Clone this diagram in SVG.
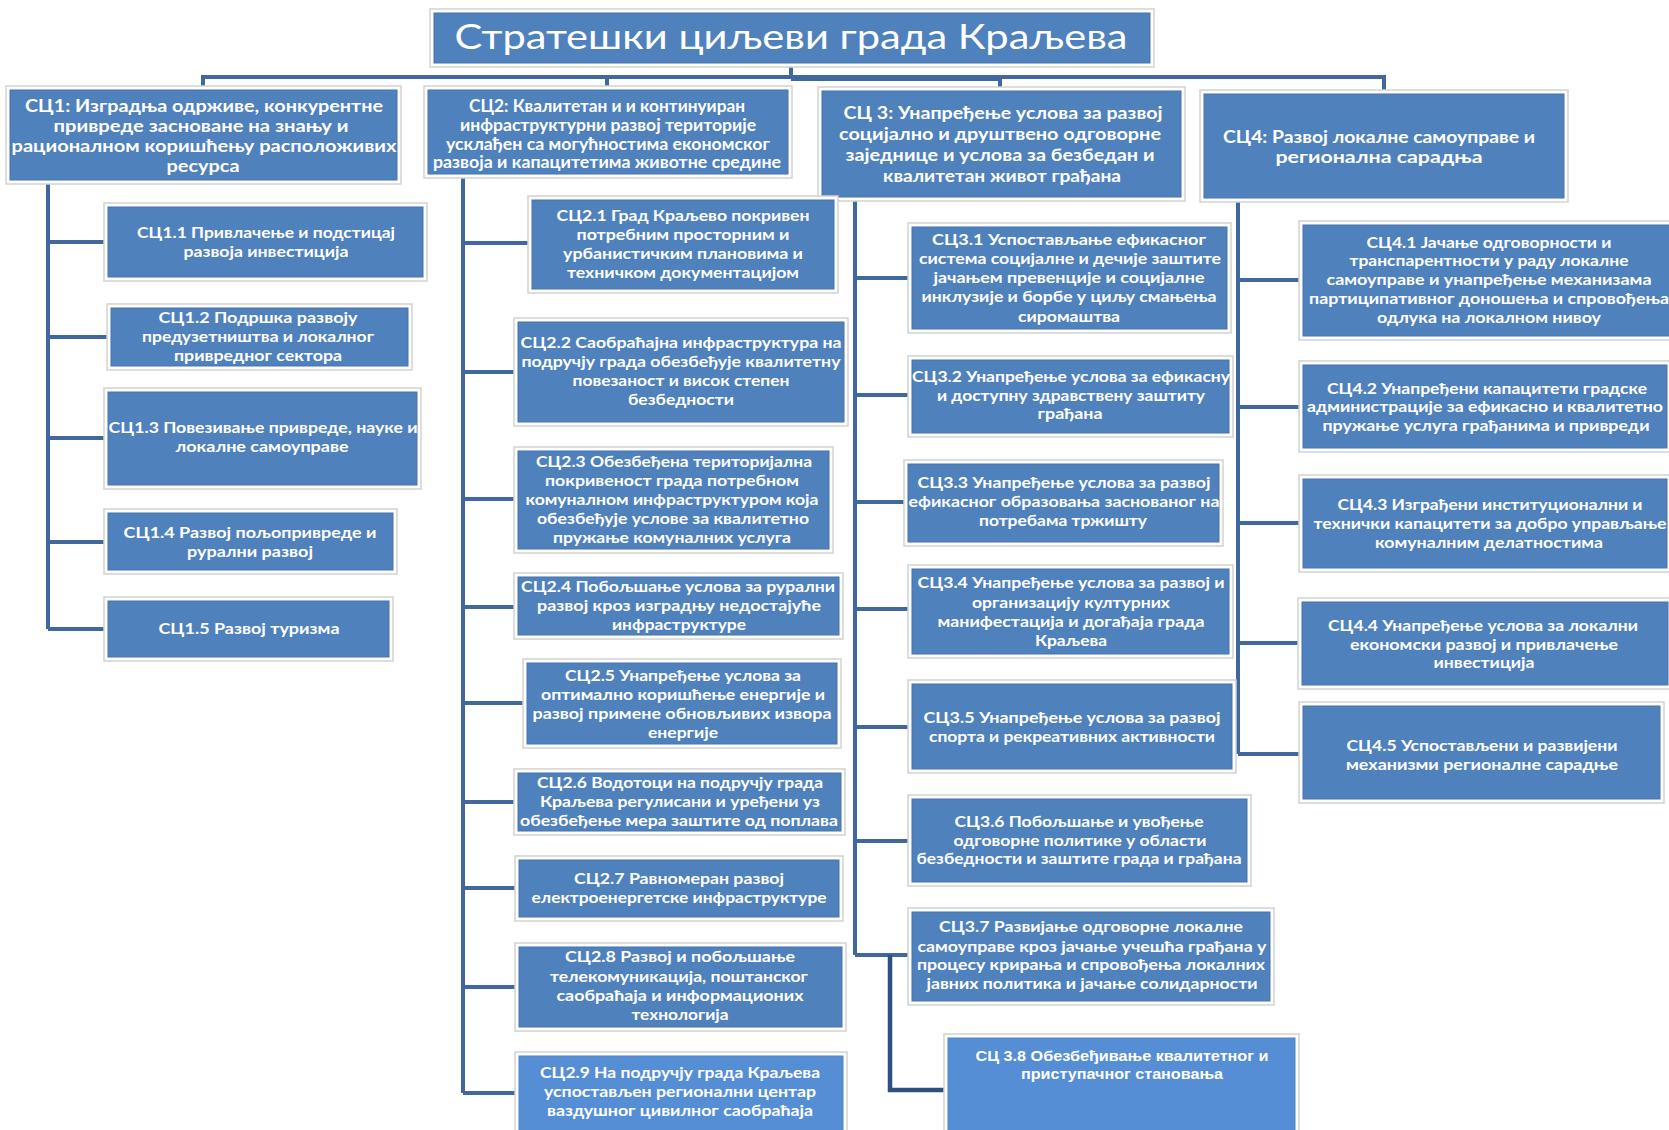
<svg xmlns="http://www.w3.org/2000/svg" width="1669" height="1130" viewBox="0 0 1669 1130">
<style>
.fr{fill:#ffffff;stroke:#d2d2d2;stroke-width:1.5}
.bx{fill:#4F81BD;stroke:#4675AE;stroke-width:1}
.bl{fill:#558ED5;stroke:#4F85C8;stroke-width:1}
.tt{font-family:Lato,"Open Sans","Noto Sans",sans-serif;font-size:35px;fill:#ffffff;text-anchor:middle}
.h{font-family:Lato,"Open Sans","Noto Sans",sans-serif;font-size:16.5px;font-weight:bold;fill:#ffffff;text-anchor:middle}
.t{font-family:Lato,"Open Sans","Noto Sans",sans-serif;font-size:16px;font-weight:bold;fill:#ffffff;text-anchor:middle}
.a{font-family:"Liberation Sans",Arial,sans-serif;font-size:15px;font-weight:bold;fill:#ffffff;text-anchor:middle}
.c{fill:none;stroke:#41689E;stroke-width:4;stroke-linejoin:miter}
.cd{fill:none;stroke:#2E4F80;stroke-width:4.5;stroke-linejoin:miter}
</style>
<rect width="1669" height="1130" fill="#ffffff"/>
<g id="connectors">
<path class="c" d="M791,63V77M203,90V77H1384V94M607,77V90M1000,77V91"/>
<path class="c" d="M791,79H1000"/>
<path class="c" d="M48,182V629M48,242H107M48,337H111M48,438H108M48,542H108M48,629H108"/>
<path class="c" d="M463,174V1093M463,243H532M463,372H518M463,499H518M463,607H518M463,703H527M463,802H518M463,888H519M463,987H519M463,1093H519"/>
<path class="c" d="M855,197V955M855,278H912M855,395H912M855,502H908M855,609H912M855,727H912M855,841H912M855,955H912"/>
<path class="cd" d="M890,955V1090H948"/>
<path class="c" d="M1238,198V754M1238,280H1302M1238,407H1302M1238,523H1302M1238,643H1302M1238,754H1302"/>
</g>
<g id="title">
<rect class="fr" x="430" y="9" width="724" height="58"/>
<rect class="bx" x="434" y="13" width="716" height="50"/>
<text class="tt" x="791" y="49" textLength="673" lengthAdjust="spacingAndGlyphs">Стратешки циљеви града Краљева</text>
</g>
<g id="sc1">
<rect class="fr" x="6" y="86" width="395" height="98"/>
<rect class="bx" x="10" y="90" width="387" height="90"/>
<text class="h" x="204" y="112" textLength="358" lengthAdjust="spacingAndGlyphs">СЦ1:  Изградња одрживе, конкурентне</text>
<text class="h" x="201" y="132" textLength="295" lengthAdjust="spacingAndGlyphs">привреде засноване на знању  и</text>
<text class="h" x="204" y="152" textLength="385" lengthAdjust="spacingAndGlyphs">рационалном коришћењу расположивих</text>
<text class="h" x="203" y="172" textLength="73" lengthAdjust="spacingAndGlyphs">ресурса</text>
</g>
<g id="sc2">
<rect class="fr" x="424" y="86" width="368" height="92"/>
<rect class="bx" x="428" y="90" width="360" height="84"/>
<text class="h" x="607" y="112" textLength="276" lengthAdjust="spacingAndGlyphs">СЦ2: Квалитетан и и континуиран</text>
<text class="h" x="608" y="130.5" textLength="296" lengthAdjust="spacingAndGlyphs">инфраструктурни развој територије</text>
<text class="h" x="608" y="149.5" textLength="324" lengthAdjust="spacingAndGlyphs">усклађен са могућностима економског</text>
<text class="h" x="607" y="168" textLength="348" lengthAdjust="spacingAndGlyphs">развоја и капацитетима животне средине</text>
</g>
<g id="sc3">
<rect class="fr" x="818" y="87" width="367" height="114"/>
<rect class="bx" x="822" y="91" width="359" height="106"/>
<text class="h" x="1003" y="118.5" textLength="319" lengthAdjust="spacingAndGlyphs">СЦ 3: Унапређење услова за развој</text>
<text class="h" x="1000" y="139.5" textLength="322" lengthAdjust="spacingAndGlyphs">социјално и друштвено одговорне</text>
<text class="h" x="1000" y="160.5" textLength="309" lengthAdjust="spacingAndGlyphs">заједнице и услова за безбедан и</text>
<text class="h" x="1002" y="181.5" textLength="238" lengthAdjust="spacingAndGlyphs">квалитетан живот грађана</text>
</g>
<g id="sc4">
<rect class="fr" x="1200" y="90" width="368" height="112"/>
<rect class="bx" x="1204" y="94" width="360" height="104"/>
<text class="h" x="1379" y="143" textLength="312" lengthAdjust="spacingAndGlyphs">СЦ4:  Развој локалне самоуправе и</text>
<text class="h" x="1379" y="162.5" textLength="207" lengthAdjust="spacingAndGlyphs">регионална сарадња</text>
</g>
<g id="sc1-1">
<rect class="fr" x="104" y="203" width="323" height="78"/>
<rect class="bx" x="108" y="207" width="315" height="70"/>
<text class="t" x="266" y="238" textLength="258" lengthAdjust="spacingAndGlyphs">СЦ1.1 Привлачење и подстицај</text>
<text class="t" x="266" y="257" textLength="165" lengthAdjust="spacingAndGlyphs">развоја инвестиција</text>
</g>
<g id="sc1-2">
<rect class="fr" x="107" y="304" width="305" height="66"/>
<rect class="bx" x="111" y="308" width="297" height="58"/>
<text class="t" x="258" y="323" textLength="199" lengthAdjust="spacingAndGlyphs">СЦ1.2  Подршка развоју</text>
<text class="t" x="258" y="342" textLength="232" lengthAdjust="spacingAndGlyphs">предузетништва и локалног</text>
<text class="t" x="258" y="361" textLength="168" lengthAdjust="spacingAndGlyphs">привредног сектора</text>
</g>
<g id="sc1-3">
<rect class="fr" x="104" y="388" width="317" height="101"/>
<rect class="bx" x="108" y="392" width="309" height="93"/>
<text class="t" x="263" y="433" textLength="309" lengthAdjust="spacingAndGlyphs">СЦ1.3 Повезивање привреде, науке и</text>
<text class="t" x="262" y="452" textLength="173" lengthAdjust="spacingAndGlyphs">локалне самоуправе</text>
</g>
<g id="sc1-4">
<rect class="fr" x="104" y="509" width="293" height="65"/>
<rect class="bx" x="108" y="513" width="285" height="57"/>
<text class="t" x="250" y="538" textLength="253" lengthAdjust="spacingAndGlyphs">СЦ1.4 Развој  пољопривреде и</text>
<text class="t" x="250" y="557" textLength="126" lengthAdjust="spacingAndGlyphs">рурални развој</text>
</g>
<g id="sc1-5">
<rect class="fr" x="104" y="597" width="289" height="64"/>
<rect class="bx" x="108" y="601" width="281" height="56"/>
<text class="t" x="249" y="634" textLength="181" lengthAdjust="spacingAndGlyphs">СЦ1.5  Развој туризма</text>
</g>
<g id="sc2-1">
<rect class="fr" x="528" y="196" width="310" height="97"/>
<rect class="bx" x="532" y="200" width="302" height="89"/>
<text class="t" x="683" y="221" textLength="253" lengthAdjust="spacingAndGlyphs">СЦ2.1 Град Краљево покривен</text>
<text class="t" x="683" y="240" textLength="213" lengthAdjust="spacingAndGlyphs">потребним просторним и</text>
<text class="t" x="683" y="259" textLength="240" lengthAdjust="spacingAndGlyphs">урбанистичким плановима и</text>
<text class="t" x="683" y="278" textLength="232" lengthAdjust="spacingAndGlyphs">техничком документацијом</text>
</g>
<g id="sc2-2">
<rect class="fr" x="514" y="318" width="334" height="108"/>
<rect class="bx" x="518" y="322" width="326" height="100"/>
<text class="t" x="681" y="348" textLength="321" lengthAdjust="spacingAndGlyphs">СЦ2.2  Саобраћајна инфраструктура на</text>
<text class="t" x="681" y="367" textLength="319" lengthAdjust="spacingAndGlyphs">подручју града обезбеђује квалитетну</text>
<text class="t" x="681" y="386" textLength="217" lengthAdjust="spacingAndGlyphs">повезаност и висок степен</text>
<text class="t" x="681" y="405" textLength="106" lengthAdjust="spacingAndGlyphs">безбедности</text>
</g>
<g id="sc2-3">
<rect class="fr" x="514" y="447" width="319" height="106"/>
<rect class="bx" x="518" y="451" width="311" height="98"/>
<text class="t" x="674" y="467" textLength="276" lengthAdjust="spacingAndGlyphs">СЦ2.3 Обезбеђена територијална</text>
<text class="t" x="672" y="485.5" textLength="254" lengthAdjust="spacingAndGlyphs">покривеност града потребном</text>
<text class="t" x="672" y="504.5" textLength="293" lengthAdjust="spacingAndGlyphs">комуналном инфраструктуром која</text>
<text class="t" x="673" y="523.5" textLength="272" lengthAdjust="spacingAndGlyphs">обезбеђује услове за квалитетно</text>
<text class="t" x="672" y="542.5" textLength="238" lengthAdjust="spacingAndGlyphs">пружање комуналних услуга</text>
</g>
<g id="sc2-4">
<rect class="fr" x="514" y="573" width="329" height="66"/>
<rect class="bx" x="518" y="577" width="321" height="58"/>
<text class="t" x="678" y="592" textLength="314" lengthAdjust="spacingAndGlyphs">СЦ2.4 Побољшање услова за рурални</text>
<text class="t" x="679" y="611" textLength="284" lengthAdjust="spacingAndGlyphs">развој кроз изградњу недостајуће</text>
<text class="t" x="679" y="630" textLength="134" lengthAdjust="spacingAndGlyphs">инфраструктуре</text>
</g>
<g id="sc2-5">
<rect class="fr" x="523" y="659" width="318" height="89"/>
<rect class="bx" x="527" y="663" width="310" height="81"/>
<text class="t" x="683" y="681" textLength="236" lengthAdjust="spacingAndGlyphs">СЦ2.5 Унапређење услова за</text>
<text class="t" x="683" y="700" textLength="284" lengthAdjust="spacingAndGlyphs">оптимално коришћење енергије и</text>
<text class="t" x="682" y="719" textLength="299" lengthAdjust="spacingAndGlyphs">развој примене обновљивих извора</text>
<text class="t" x="683" y="738" textLength="70" lengthAdjust="spacingAndGlyphs">енергије</text>
</g>
<g id="sc2-6">
<rect class="fr" x="514" y="769" width="331" height="66"/>
<rect class="bx" x="518" y="773" width="323" height="58"/>
<text class="t" x="680" y="788" textLength="286" lengthAdjust="spacingAndGlyphs">СЦ2.6 Водотоци на подручју града</text>
<text class="t" x="680" y="807" textLength="280" lengthAdjust="spacingAndGlyphs">Краљева регулисани и уређени уз</text>
<text class="t" x="679" y="826" textLength="318" lengthAdjust="spacingAndGlyphs">обезбеђење мера заштите од поплава</text>
</g>
<g id="sc2-7">
<rect class="fr" x="515" y="856" width="328" height="65"/>
<rect class="bx" x="519" y="860" width="320" height="57"/>
<text class="t" x="679" y="884" textLength="210" lengthAdjust="spacingAndGlyphs">СЦ2.7 Равномеран развој</text>
<text class="t" x="679" y="903" textLength="295" lengthAdjust="spacingAndGlyphs">електроенергетске инфраструктуре</text>
</g>
<g id="sc2-8">
<rect class="fr" x="515" y="943" width="331" height="88"/>
<rect class="bx" x="519" y="947" width="323" height="80"/>
<text class="t" x="680" y="962" textLength="230" lengthAdjust="spacingAndGlyphs">СЦ2.8  Развој и побољшање</text>
<text class="t" x="679" y="982" textLength="258" lengthAdjust="spacingAndGlyphs">телекомуникација, поштанског</text>
<text class="t" x="680" y="1001" textLength="247" lengthAdjust="spacingAndGlyphs">саобраћаја и информационих</text>
<text class="t" x="680" y="1020" textLength="97" lengthAdjust="spacingAndGlyphs">технологија</text>
</g>
<g id="sc2-9">
<rect class="fr" x="515" y="1052" width="332" height="82"/>
<rect class="bl" x="519" y="1056" width="324" height="78"/>
<text class="t" x="680" y="1078" textLength="280" lengthAdjust="spacingAndGlyphs">СЦ2.9 На подручју града Краљева</text>
<text class="t" x="680" y="1097" textLength="272" lengthAdjust="spacingAndGlyphs">успостављен регионални центар</text>
<text class="t" x="680" y="1116" textLength="266" lengthAdjust="spacingAndGlyphs">ваздушног цивилног саобраћаја</text>
</g>
<g id="sc3-1">
<rect class="fr" x="908" y="223" width="323" height="110"/>
<rect class="bx" x="912" y="227" width="315" height="102"/>
<text class="t" x="1069" y="245" textLength="274" lengthAdjust="spacingAndGlyphs">СЦ3.1  Успостављање  ефикасног</text>
<text class="t" x="1070" y="264" textLength="302" lengthAdjust="spacingAndGlyphs">система  социјалне и дечије заштите</text>
<text class="t" x="1069" y="283" textLength="271" lengthAdjust="spacingAndGlyphs">јачањем превенције и социјалне</text>
<text class="t" x="1069" y="302" textLength="295" lengthAdjust="spacingAndGlyphs">инклузије и борбе у циљу смањења</text>
<text class="t" x="1069" y="322" textLength="102" lengthAdjust="spacingAndGlyphs">сиромаштва</text>
</g>
<g id="sc3-2">
<rect class="fr" x="908" y="356" width="325" height="81"/>
<rect class="bx" x="912" y="360" width="317" height="73"/>
<text class="t" x="1071" y="382" textLength="318" lengthAdjust="spacingAndGlyphs">СЦ3.2 Унапређење услова за ефикасну</text>
<text class="t" x="1071" y="401" textLength="268" lengthAdjust="spacingAndGlyphs">и доступну здравствену заштиту</text>
<text class="t" x="1070" y="419" textLength="65" lengthAdjust="spacingAndGlyphs">грађана</text>
</g>
<g id="sc3-3">
<rect class="fr" x="904" y="460" width="319" height="86"/>
<rect class="bx" x="908" y="464" width="311" height="78"/>
<text class="t" x="1064" y="488" textLength="293" lengthAdjust="spacingAndGlyphs">СЦ3.3 Унапређење услова за развој</text>
<text class="t" x="1064" y="507" textLength="311" lengthAdjust="spacingAndGlyphs">ефикасног образовања заснованог на</text>
<text class="t" x="1063" y="526" textLength="168" lengthAdjust="spacingAndGlyphs">потребама тржишту</text>
</g>
<g id="sc3-4">
<rect class="fr" x="908" y="565" width="325" height="93"/>
<rect class="bx" x="912" y="569" width="317" height="85"/>
<text class="t" x="1071" y="588" textLength="307" lengthAdjust="spacingAndGlyphs">СЦ3.4 Унапређење услова за развој и</text>
<text class="t" x="1071" y="608" textLength="198" lengthAdjust="spacingAndGlyphs">организацију културних</text>
<text class="t" x="1071" y="627" textLength="267" lengthAdjust="spacingAndGlyphs">манифестација и догађаја града</text>
<text class="t" x="1071" y="646" textLength="72" lengthAdjust="spacingAndGlyphs">Краљева</text>
</g>
<g id="sc3-5">
<rect class="fr" x="908" y="680" width="328" height="93"/>
<rect class="bx" x="912" y="684" width="320" height="85"/>
<text class="t" x="1072" y="723" textLength="297" lengthAdjust="spacingAndGlyphs">СЦ3.5  Унапређење услова за развој</text>
<text class="t" x="1072" y="742" textLength="286" lengthAdjust="spacingAndGlyphs">спорта и рекреативних активности</text>
</g>
<g id="sc3-6">
<rect class="fr" x="908" y="795" width="343" height="91"/>
<rect class="bx" x="912" y="799" width="335" height="83"/>
<text class="t" x="1079" y="827" textLength="249" lengthAdjust="spacingAndGlyphs">СЦ3.6 Побољшање и увођење</text>
<text class="t" x="1080" y="846" textLength="253" lengthAdjust="spacingAndGlyphs">одговорне политике у области</text>
<text class="t" x="1079" y="864" textLength="325" lengthAdjust="spacingAndGlyphs">безбедности и заштите града и грађана</text>
</g>
<g id="sc3-7">
<rect class="fr" x="908" y="908" width="366" height="97"/>
<rect class="bx" x="912" y="912" width="358" height="89"/>
<text class="t" x="1091" y="932" textLength="304" lengthAdjust="spacingAndGlyphs">СЦ3.7 Развијање одговорне локалне</text>
<text class="t" x="1092" y="952" textLength="349" lengthAdjust="spacingAndGlyphs">самоуправе кроз јачање учешћа грађана у</text>
<text class="t" x="1091" y="970" textLength="348" lengthAdjust="spacingAndGlyphs">процесу крирања и спровођења локалних</text>
<text class="t" x="1092" y="989" textLength="331" lengthAdjust="spacingAndGlyphs">јавних политика и јачање солидарности</text>
</g>
<g id="sc3-8">
<rect class="fr" x="944" y="1034" width="355" height="100"/>
<rect class="bl" x="948" y="1038" width="347" height="96"/>
<text class="a" x="1122" y="1061" textLength="293" lengthAdjust="spacingAndGlyphs">СЦ 3.8 Обезбеђивање квалитетног и</text>
<text class="a" x="1122" y="1079" textLength="202" lengthAdjust="spacingAndGlyphs">приступачног становања</text>
</g>
<g id="sc4-1">
<rect class="fr" x="1299" y="221" width="374" height="119"/>
<rect class="bx" x="1303" y="225" width="370" height="111"/>
<text class="t" x="1489" y="248" textLength="245" lengthAdjust="spacingAndGlyphs">СЦ4.1 Јачање одговорности и</text>
<text class="t" x="1489" y="266" textLength="279" lengthAdjust="spacingAndGlyphs">транспарентности у раду локалне</text>
<text class="t" x="1489" y="285" textLength="325" lengthAdjust="spacingAndGlyphs">самоуправе и унапређење механизама</text>
<text class="t" x="1489" y="304" textLength="360" lengthAdjust="spacingAndGlyphs">партиципативног доношења и спровођења</text>
<text class="t" x="1489" y="323" textLength="224" lengthAdjust="spacingAndGlyphs">одлука на локалном нивоу</text>
</g>
<g id="sc4-2">
<rect class="fr" x="1299" y="361" width="372" height="91"/>
<rect class="bx" x="1303" y="365" width="364" height="83"/>
<text class="t" x="1487" y="394" textLength="320" lengthAdjust="spacingAndGlyphs">СЦ4.2 Унапређени капацитети градске</text>
<text class="t" x="1485" y="412" textLength="356" lengthAdjust="spacingAndGlyphs">администрације за ефикасно  и квалитетно</text>
<text class="t" x="1486" y="431" textLength="327" lengthAdjust="spacingAndGlyphs">пружање услуга грађанима и привреди</text>
</g>
<g id="sc4-3">
<rect class="fr" x="1299" y="475" width="372" height="97"/>
<rect class="bx" x="1303" y="479" width="364" height="89"/>
<text class="t" x="1490" y="510" textLength="305" lengthAdjust="spacingAndGlyphs">СЦ4.3 Изграђени институционални и</text>
<text class="t" x="1490" y="529" textLength="353" lengthAdjust="spacingAndGlyphs">технички капацитети за добро управљање</text>
<text class="t" x="1489" y="548" textLength="228" lengthAdjust="spacingAndGlyphs">комуналним делатностима</text>
</g>
<g id="sc4-4">
<rect class="fr" x="1298" y="598" width="374" height="91"/>
<rect class="bx" x="1302" y="602" width="366" height="83"/>
<text class="t" x="1483" y="631" textLength="310" lengthAdjust="spacingAndGlyphs">СЦ4.4 Унапређење услова за локални</text>
<text class="t" x="1484" y="650" textLength="268" lengthAdjust="spacingAndGlyphs">економски развој и привлачење</text>
<text class="t" x="1484" y="668" textLength="101" lengthAdjust="spacingAndGlyphs">инвестиција</text>
</g>
<g id="sc4-5">
<rect class="fr" x="1299" y="702" width="365" height="101"/>
<rect class="bx" x="1303" y="706" width="357" height="93"/>
<text class="t" x="1482" y="751" textLength="271" lengthAdjust="spacingAndGlyphs">СЦ4.5 Успостављени и развијени</text>
<text class="t" x="1482" y="770" textLength="272" lengthAdjust="spacingAndGlyphs">механизми регионалне сарадње</text>
</g>
</svg>
